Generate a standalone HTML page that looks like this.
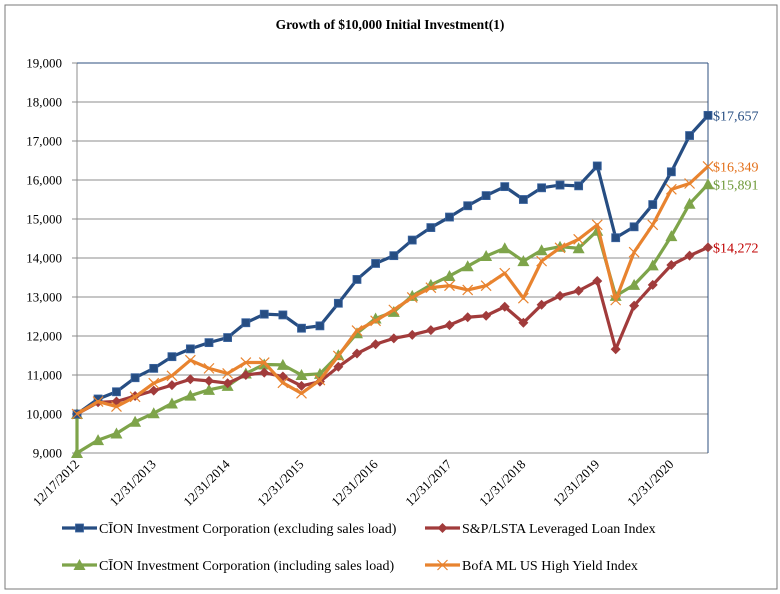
<!DOCTYPE html>
<html><head><meta charset="utf-8"><style>
html,body{margin:0;padding:0;background:#fff;}
svg{display:block;}
svg text{font-family:"Liberation Serif",serif;}
</style></head><body>
<svg id="chart" width="780" height="594" viewBox="0 0 780 594" xmlns="http://www.w3.org/2000/svg" font-family="Liberation Serif, serif">
<rect x="5" y="5" width="772" height="584" fill="#fff" stroke="#7a7a7a" stroke-width="1"/>
<text x="390" y="29" text-anchor="middle" font-size="13.5" font-weight="bold">Growth of $10,000 Initial Investment(1)</text>
<g id="grid"></g><g id="axes"></g><g id="series"></g><g id="labels"></g>
<g id="legend"></g>
</svg>
<script>
const yTicks=[9000,10000,11000,12000,13000,14000,15000,16000,17000,18000,19000];
const xTickLabels=["12/17/2012","12/31/2013","12/31/2014","12/31/2015","12/31/2016","12/31/2017","12/31/2018","12/31/2019","12/31/2020"];
const dates=["2012-12-17","2013-03-31","2013-06-30","2013-09-30","2013-12-31","2014-03-31","2014-06-30","2014-09-30","2014-12-31","2015-03-31","2015-06-30","2015-09-30","2015-12-31","2016-03-31","2016-06-30","2016-09-30","2016-12-31","2017-03-31","2017-06-30","2017-09-30","2017-12-31","2018-03-31","2018-06-30","2018-09-30","2018-12-31","2019-03-31","2019-06-30","2019-09-30","2019-12-31","2020-03-31","2020-06-30","2020-09-30","2020-12-31","2021-03-31","2021-06-30"];
const cionExcl=[10000,10385,10570,10930,11170,11470,11670,11830,11960,12340,12560,12540,12200,12260,12840,13450,13860,14060,14460,14780,15050,15340,15600,15830,15500,15800,15870,15850,16360,14520,14800,15370,16210,17140,17657];
const loanIndex=[10000,10300,10320,10460,10600,10740,10890,10850,10790,11000,11060,10960,10720,10830,11210,11550,11790,11940,12030,12150,12280,12480,12520,12750,12340,12800,13030,13160,13410,11660,12780,13310,13820,14060,14272];
const cionInclStart=10000;
const cionIncl=[9000,9330,9500,9800,10020,10270,10470,10620,10720,11040,11270,11260,11000,11030,11510,12070,12450,12620,13030,13310,13540,13790,14050,14250,13920,14200,14290,14250,14700,13030,13310,13810,14560,15390,15891];
const highYield=[10000,10320,10190,10440,10790,10980,11380,11170,11040,11320,11320,10800,10530,10870,11490,12140,12390,12670,12990,13240,13290,13180,13290,13610,12970,13920,14260,14480,14850,12920,14150,14850,15760,15910,16349];
const endLabels=["$17,657","$14,272","$15,891","$16,349"];

const NS="http://www.w3.org/2000/svg";
const FONT='"Liberation Serif", serif';
const L=77,R=708,T=63,B=453,YMIN=9000,YMAX=19000;
const t0=Date.parse("2012-12-17"),t1=Date.parse("2021-06-30");
function x(d){return L+(Date.parse(d)-t0)/(t1-t0)*(R-L);}
function y(v){return B-(v-YMIN)/(YMAX-YMIN)*(B-T);}
function mk(tag,attrs,parent){const e=document.createElementNS(NS,tag);for(const k in attrs)e.setAttribute(k,attrs[k]);if(tag==='text')e.setAttribute('font-family',FONT);parent.appendChild(e);return e;}
const grid=document.getElementById('grid'),axes=document.getElementById('axes'),ser=document.getElementById('series'),lab=document.getElementById('labels'),leg=document.getElementById('legend');
yTicks.forEach(v=>{
  const g=mk('line',{x1:L,x2:R,y1:y(v),y2:y(v),stroke:'#8c8c8c','stroke-width':1},grid);
  
  
  const tk=mk('line',{x1:L-5,x2:L,y1:y(v),y2:y(v),stroke:'#8c8c8c'},axes);
  
  
  const t=mk('text',{x:L-15,y:y(v)+4.5,'text-anchor':'end','font-size':13},axes);
  
  
  t.textContent=v.toLocaleString('en-US');
});
const ya=mk('line',{x1:L,x2:L,y1:T,y2:B,stroke:'#8c8c8c'},axes);


const topBorder=mk('line',{x1:L,x2:R,y1:T,y2:T,stroke:'#2d4f7f'},axes);


const rt=mk('line',{x1:R,x2:R,y1:T,y2:B,stroke:'#2d4f7f'},axes);


xTickLabels.forEach(s=>{
  const p=s.split('/');const d=p[2]+'-'+p[0]+'-'+p[1];
  const xx=x(d);
  const t=mk('text',{x:xx+3,y:B+12,'text-anchor':'end','font-size':13,transform:`rotate(-45 ${xx+3} ${B+12})`},axes);
  
  
  t.textContent=s;
});
function marker(type,cx,cy,color,parent){
  let e;
  if(type==='sq'){e=mk('rect',{x:cx-4,y:cy-4,width:8,height:8,fill:color,stroke:'#3a64a0','stroke-width':0.8},parent);}
  else if(type==='dia'){e=mk('polygon',{points:`${cx},${cy-5} ${cx+5},${cy} ${cx},${cy+5} ${cx-5},${cy}`,fill:color},parent);}
  else if(type==='tri'){e=mk('polygon',{points:`${cx},${cy-6} ${cx+6},${cy+5} ${cx-6},${cy+5}`,fill:color},parent);}
  else {e=mk('path',{d:`M${cx-5},${cy-5}L${cx+5},${cy+5}M${cx+5},${cy-5}L${cx-5},${cy+5}`,stroke:color,'stroke-width':1.2,fill:'none'},parent);}
  return e;
}
const series=[
 {name:'cion-excl',pts:dates.map((d,i)=>[x(d),y(cionExcl[i])]),color:'#264d82',m:'sq',lab:endLabels[0],lc:'#264d82'},
 {name:'loan-index',pts:dates.map((d,i)=>[x(d),y(loanIndex[i])]),color:'#a13b3b',m:'dia',lab:endLabels[1],lc:'#c00000'},
 {name:'cion-incl',pts:[[x(dates[0]),y(cionInclStart)]].concat(dates.map((d,i)=>[x(d),y(cionIncl[i])])),color:'#7ea44a',m:'tri',lab:endLabels[2],lc:'#6f9a3a'},
 {name:'high-yield',pts:dates.map((d,i)=>[x(d),y(highYield[i])]),color:'#e8832f',m:'x',lab:endLabels[3],lc:'#e3701a'}
];
const order=[2,1,0,3];
order.forEach(k=>{
  const s=series[k];
  const g=mk('g',{},ser);
  
  
  const pl=mk('polyline',{points:s.pts.map(p=>p.join(',')).join(' '),fill:'none',stroke:s.color,'stroke-width':3.2,'stroke-linejoin':'round'},g);
  
  
  s.pts.forEach(p=>{
    const m=marker(s.m,p[0],p[1],s.color,g);
    
    
  });
  const last=s.pts[s.pts.length-1];
  const t=mk('text',{x:R+5,y:last[1]+5,'font-size':14,fill:s.lc},lab);
  
  
  t.textContent=s.lab;
});
const legItems=[
 [0,62,528,'CĪON Investment Corporation (excluding sales load)'],
 [1,425,528,'S&P/LSTA Leveraged Loan Index'],
 [2,62,565,'CĪON Investment Corporation (including sales load)'],
 [3,425,565,'BofA ML US High Yield Index']];
legItems.forEach(it=>{
  const s=series[it[0]];
  const g=mk('g',{},leg);
  
  
  mk('line',{x1:it[1],x2:it[1]+35,y1:it[2],y2:it[2],stroke:s.color,'stroke-width':3.2},g);
  marker(s.m,it[1]+17.5,it[2],s.color,g);
  const t=mk('text',{x:it[1]+37,y:it[2]+5,'font-size':14},g);
  t.textContent=it[3];
});
</script>
</body></html>
